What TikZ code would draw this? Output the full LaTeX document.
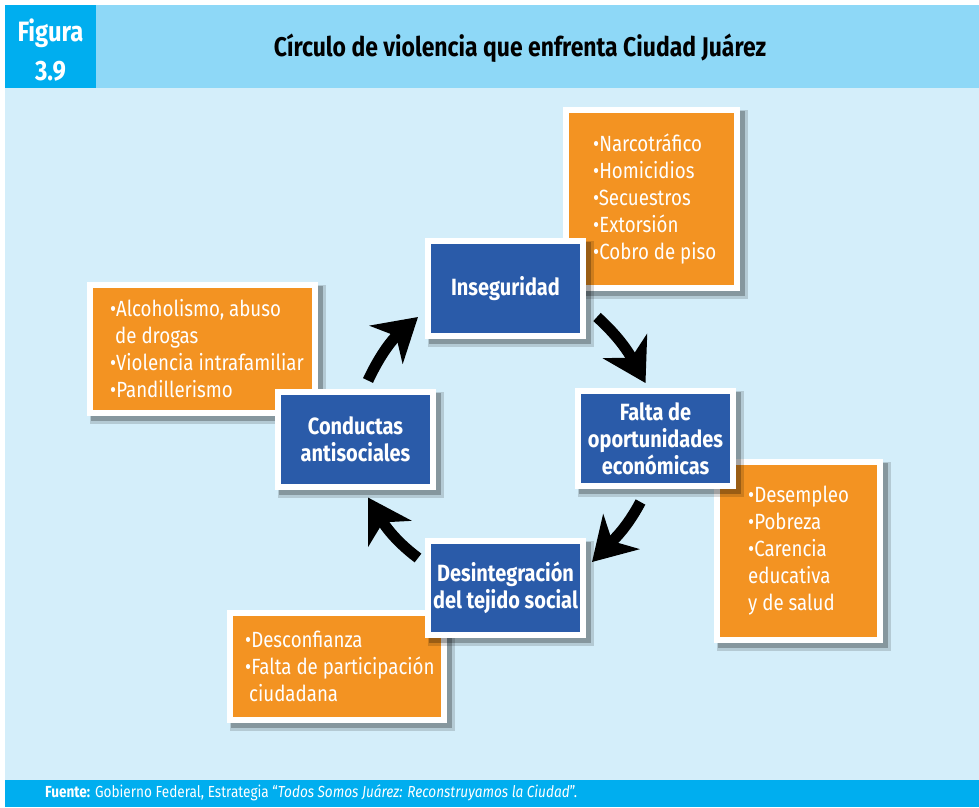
\documentclass[tikz,border=0pt]{standalone}
\usepackage{fontspec}
\setmainfont{Fira Sans}[FakeStretch=0.85]
\usetikzlibrary{arrows.meta}
\definecolor{hdr}{HTML}{8ED8F7}
\definecolor{figbox}{HTML}{00AEEF}
\definecolor{bgc}{HTML}{D4EEFA}
\definecolor{bluebox}{HTML}{2A5BA9}
\definecolor{orangebox}{HTML}{F39322}
\tikzset{
  card/.style={draw=white, line width=6pt, rectangle, inner sep=0pt, text=white},
  bluecard/.style={card, fill=bluebox, align=center, font=\bfseries\fontsize{23.5}{27}\selectfont},
  orangecard/.style={card, fill=orangebox},
  otext/.style={text=white, align=left, inner sep=0pt, anchor=west, font=\fontsize{22}{27}\selectfont},
  cyc/.style={line width=11pt, black, -{Stealth[length=42pt,width=50pt,inset=13pt]}},
}
% name, cx, cy, outer w, outer h, style, text
\newcommand\mkcard[7]{%
  \fill[black,opacity=.15] (#2-#4/2+3,#3-#5/2+3) rectangle (#2+#4/2+8,#3+#5/2+8);
  \fill[black,opacity=.25] (#2-#4/2+4,#3-#5/2+4) rectangle (#2+#4/2+5,#3+#5/2+5);
  \node[#6, minimum width=#4pt-6pt, minimum height=#5pt-6pt] (#1) at (#2,#3) {#7};
}
\begin{document}
\begin{tikzpicture}[x=1pt,y=-1pt]
\useasboundingbox (0,0) rectangle (979,807);
\fill[white] (0,0) rectangle (979,807);
\fill[bgc] (5,88) rectangle (979,780);
\fill[hdr] (5,5) rectangle (979,88);
\fill[figbox] (5,5) rectangle (96,88);
\fill[figbox] (5,780) rectangle (979,807);

\node[text=white, font=\bfseries\fontsize{28}{39}\selectfont, align=center] (fig) at (50.5,50) {Figura\\3.9};
\node[text=black, font=\bfseries\fontsize{27}{32}\selectfont] (title) at (520,48) {Círculo de violencia que enfrenta Ciudad Juárez};
\node[text=white, anchor=west, inner sep=0pt, font=\fontsize{16}{19}\selectfont] (src) at (45,793)
  {{\bfseries Fuente:} Gobierno Federal, Estrategia “\textit{Todos Somos Juárez: Reconstruyamos la Ciudad}”.};

% orange boxes
\mkcard{oTop}{651.5}{199}{177}{184}{orangecard}{}
\mkcard{oRight}{798.5}{551}{169}{184}{orangecard}{}
\mkcard{oBottom}{337}{666.5}{220}{113}{orangecard}{}
\mkcard{oLeft}{202.5}{349}{231}{134}{orangecard}{}

\node[otext] (tTop) at (593,199) {•Narcotráfico\\•Homicidios\\•Secuestros\\•Extorsión\\•Cobro de piso};
\node[otext] (tRight) at (748,551) {•Desempleo\\•Pobreza\\•Carencia\\educativa\\y de salud};
\node[otext] (tBottom) at (245,666) {•Desconfianza\\•Falta de participación\\\hspace*{4pt}ciudadana};
\node[otext] (tLeft) at (110,348.5) {•Alcoholismo, abuso\\\hspace*{5pt}de drogas\\•Violencia intrafamiliar\\•Pandillerismo};

% blue boxes
\mkcard{ins}{505.5}{288.5}{161}{101}{bluecard}{Inseguridad}
\mkcard{falta}{655.5}{438.5}{161}{101}{bluecard}{Falta de\\oportunidades\\económicas}
\mkcard{des}{505.5}{588}{161}{100}{bluecard}{Desintegración\\del tejido social}
\mkcard{con}{355.5}{439}{161}{101}{bluecard}{Conductas\\antisociales}

% cycle arrows
\coordinate (a1s) at ([shift={(11,-22)}]ins.south east);
\coordinate (a1e) at ([shift={(-10,-5)}]falta.north);
\coordinate (a2s) at ([shift={(-15,13)}]falta.south);
\coordinate (a2e) at ([shift={(6,24)}]des.north east);
\coordinate (a3s) at ([shift={(-7,20)}]des.north west);
\coordinate (a3e) at ([shift={(12.5,8)}]con.south);
\coordinate (a4s) at ([shift={(12.5,-8)}]con.north);
\coordinate (a4e) at ([shift={(-7,79)}]ins.north west);
\draw[cyc] (a1s) to[out=-42,in=119] (a1e);
\draw[cyc] (a2s) to[out=-118,in=46] (a2e);
\draw[cyc] (a3s) to[out=143,in=-59] (a3e);
\draw[cyc] (a4s) to[out=65,in=-139] (a4e);
\end{tikzpicture}
\end{document}
